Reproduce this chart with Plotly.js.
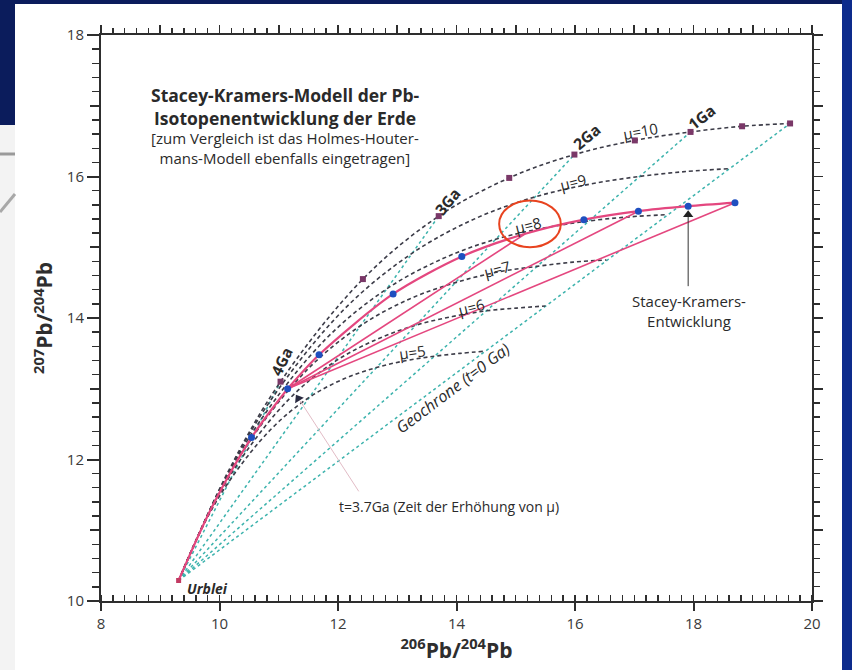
<!DOCTYPE html>
<html><head><meta charset="utf-8">
<script src="https://cdn.plot.ly/plotly-3.0.1.min.js"></script>
<style>html,body{margin:0;padding:0;background:#0b1c5c;}#chart{width:852px;height:670px;}</style>
</head><body><div id="chart"></div>
<script>
// ---- data ----
const muLabels = ['µ=5','µ=6','µ=7','µ=8','µ=9','µ=10'];
const ages = [4.57, 4.3, 4.0, 3.5, 3.0, 2.5, 2.0, 1.5, 1.0, 0.5, 0.0];
const mu5_x  = [9.31, 9.72, 10.17, 10.86, 11.50, 12.10, 12.65, 13.16, 13.63, 14.06, 14.47];
const mu5_y  = [10.29, 11.06, 11.70, 12.42, 12.87, 13.14, 13.30, 13.40, 13.46, 13.50, 13.53];
const mu6_x  = [9.31, 9.81, 10.34, 11.17, 11.94, 12.66, 13.32, 13.93, 14.49, 15.01, 15.50];
const mu6_y  = [10.29, 11.21, 11.98, 12.85, 13.38, 13.70, 13.90, 14.02, 14.10, 14.14, 14.17];
const mu7_x  = [9.31, 9.89, 10.51, 11.48, 12.38, 13.21, 13.98, 14.70, 15.36, 15.97, 16.53];
const mu7_y  = [10.29, 11.36, 12.26, 13.27, 13.89, 14.27, 14.50, 14.65, 14.73, 14.79, 14.82];
const mu8_x  = [9.31, 9.97, 10.68, 11.79, 12.82, 13.77, 14.65, 15.47, 16.22, 16.92, 17.56];
const mu8_y  = [10.29, 11.51, 12.54, 13.70, 14.41, 14.84, 15.11, 15.27, 15.37, 15.43, 15.46];
const mu9_x  = [9.31, 10.06, 10.85, 12.10, 13.26, 14.33, 15.32, 16.24, 17.08, 17.87, 18.59];
const mu9_y  = [10.29, 11.67, 12.82, 14.12, 14.92, 15.41, 15.71, 15.89, 16.00, 16.07, 16.11];
const mu10_x = [9.31, 10.14, 11.03, 12.42, 13.70, 14.89, 15.99, 17.01, 17.95, 18.82, 19.63];
const mu10_y = [10.29, 11.82, 13.10, 14.55, 15.44, 15.98, 16.31, 16.51, 16.63, 16.71, 16.75];

// squares on the µ=10 curve (0.5 Ga steps, 4 Ga .. 0 Ga)
const sq_x = [11.03, 12.42, 13.70, 14.89, 15.99, 17.01, 17.95, 18.82, 19.63];
const sq_y = [13.10, 14.55, 15.44, 15.98, 16.31, 16.51, 16.63, 16.71, 16.75];

// primordial lead
const urblei_x = [9.31];
const urblei_y = [10.29];

// isochrons (teal): Urblei -> µ=10 point at 4,3,2,1,0 Ga
const iso_ages = ['4Ga','3Ga','2Ga','1Ga','Geochrone'];
const iso_end_x = [11.03, 13.70, 15.99, 17.95, 19.63];
const iso_end_y = [13.10, 15.44, 16.31, 16.63, 16.75];

// Stacey-Kramers model
const sk1_x = [9.31, 9.91, 10.54, 11.15];
const sk1_y = [10.29, 11.39, 12.31, 13.00];
const sk2_ages = [3.7, 3.5, 3.0, 2.5, 2.0, 1.5, 1.0, 0.5, 0.0];
const sk2_x = [11.15, 11.68, 12.93, 14.09, 15.16, 16.15, 17.07, 17.91, 18.70];
const sk2_y = [13.00, 13.48, 14.34, 14.87, 15.19, 15.39, 15.51, 15.58, 15.63];
const skdot_x = [10.54, 11.15, 11.68, 12.93, 14.09, 16.15, 17.07, 17.91, 18.70];
const skdot_y = [12.31, 13.00, 13.48, 14.34, 14.87, 15.39, 15.51, 15.58, 15.63];
// secondary isochrons from the 3.7 Ga point
const sec_end_x = [15.16, 17.07, 18.70];
const sec_end_y = [15.19, 15.51, 15.63];

// pointer arrows (tail -> head)
const skArrow_x = [17.91, 17.91];
const skArrow_y = [14.45, 15.46];
const t37Line_x = [12.35, 11.36];
const t37Line_y = [11.55, 12.83];
const t37Head_x = [11.33];
const t37Head_y = [12.86];

// tick values
const xTicks = [8,10,12,14,16,18,20];
const yTicks = [10,12,14,16,18];
const yOddTicks = [11,13,15,17];

// ---- traces ----
const DASH = '4px,3px';
const traces = [];
const teal = '#3db3ad', dashCol = '#3c3c48', pink = '#e4477f';
for (let i = 0; i < iso_end_x.length; i++) {
  traces.push({x:[urblei_x[0], iso_end_x[i]], y:[urblei_y[0], iso_end_y[i]], mode:'lines',
    line:{color:teal, width:1.5, dash:'dot'}, hoverinfo:'skip', showlegend:false});
}
const muX = [mu5_x, mu6_x, mu7_x, mu8_x, mu9_x, mu10_x];
const muY = [mu5_y, mu6_y, mu7_y, mu8_y, mu9_y, mu10_y];
for (let i = 0; i < muX.length; i++) {
  traces.push({x:muX[i], y:muY[i], mode:'lines', line:{color:dashCol, width:1.6, dash:DASH, shape:'spline', smoothing:1},
    hoverinfo:'skip', showlegend:false});
}
for (let i = 0; i < sec_end_x.length; i++) {
  traces.push({x:[sk2_x[0], sec_end_x[i]], y:[sk2_y[0], sec_end_y[i]], mode:'lines',
    line:{color:pink, width:1.6}, hoverinfo:'skip', showlegend:false});
}
traces.push({x:sk1_x, y:sk1_y, mode:'lines', line:{color:pink, width:2.2, shape:'spline'}, showlegend:false, hoverinfo:'skip'});
traces.push({x:sk2_x, y:sk2_y, mode:'lines', line:{color:pink, width:2.2, shape:'spline', smoothing:0.8}, showlegend:false, hoverinfo:'skip'});
traces.push({x:sq_x, y:sq_y, mode:'markers', marker:{symbol:'square', size:6, color:'#7a3868'}, showlegend:false, hoverinfo:'skip'});
traces.push({x:urblei_x, y:urblei_y, mode:'markers', marker:{symbol:'square', size:5, color:'#c23a62'}, showlegend:false, hoverinfo:'skip'});
traces.push({x:skdot_x, y:skdot_y, mode:'markers', marker:{symbol:'circle', size:7, color:'#1f4fc0'}, showlegend:false, hoverinfo:'skip'});
// pointer arrows
traces.push({x:t37Line_x, y:t37Line_y, mode:'lines', line:{color:'#e2bcc6', width:1}, showlegend:false, hoverinfo:'skip'});
traces.push({x:t37Head_x, y:t37Head_y, mode:'markers', marker:{symbol:'triangle-up', size:9, angle:-32, color:'#2a2a40'}, showlegend:false, hoverinfo:'skip'});
traces.push({x:skArrow_x, y:skArrow_y, mode:'lines', line:{color:'#333', width:1}, showlegend:false, hoverinfo:'skip'});
traces.push({x:[skArrow_x[1]], y:[skArrow_y[1]], mode:'markers', marker:{symbol:'triangle-up', size:9, color:'#222'}, showlegend:false, hoverinfo:'skip'});
// dummy traces for the extra tick axes
traces.push({x:[8], y:[10], xaxis:'x2', yaxis:'y2', mode:'markers', marker:{opacity:0}, showlegend:false, hoverinfo:'skip'});
traces.push({x:[8], y:[10], xaxis:'x', yaxis:'y3', mode:'markers', marker:{opacity:0}, showlegend:false, hoverinfo:'skip'});

// ---- layout helpers (pixel -> paper for decoration) ----
const L = 101, T = 35, PW = 711, PH = 566;
const px = v => (v - L) / PW;
const py = v => (T + PH - v) / PH;

const FONT = 'Open Sans, Noto Sans, sans-serif';
const axCol = '#2e2e2e';
const tickFont = {family: FONT, size: 15, color: '#3a3a3a'};

function lab(text, x, y, size, angle, opts) {
  return Object.assign({text: text, x: x, y: y, xref:'x', yref:'y', showarrow:false, textangle: angle || 0,
    font:{family: FONT, size: size, color:'#2a2a2a'}}, opts || {});
}

const annotations = [
  lab('<b>Stacey-Kramers-Modell der Pb-<br>Isotopenentwicklung der Erde</b>', 11.11, 16.99, 17.5),
  lab('[zum Vergleich ist das Holmes-Houter-<br>mans-Modell ebenfalls eingetragen]', 11.11, 16.40, 15),
  lab('<b>4Ga</b>', 11.04, 13.38, 15.5, -64),
  lab('<b>3Ga</b>', 13.84, 15.64, 15.5, -50),
  lab('<b>2Ga</b>', 16.19, 16.56, 15.5, -40),
  lab('<b>1Ga</b>', 18.14, 16.84, 15.5, -38),
  lab('µ=10', 17.10, 16.64, 15, -10),
  lab('µ=9', 15.97, 15.92, 15, -14),
  lab('µ=8', 15.21, 15.31, 15, -14),
  lab('µ=7', 14.68, 14.69, 15, -14),
  lab('µ=6', 14.24, 14.16, 15, -14),
  lab('µ=5', 13.25, 13.52, 15, -8),
  lab('<i>Geochrone (t=0 Ga)</i>', 13.94, 13.01, 16, -37),
  lab('<b><i>Urblei</i></b>', 9.42, 10.18, 14, 0, {xanchor:'left'}),
  lab('Stacey-Kramers-<br>Entwicklung', 17.92, 14.10, 15, 0),
  lab('t=3.7Ga (Zeit der Erhöhung von µ)', 11.98, 11.33, 14, 0, {xanchor:'left'})
];

const shapes = [
  {type:'rect', xref:'paper', yref:'paper', x0:px(15), x1:px(842), y0:py(4), y1:py(670), fillcolor:'#ffffff', line:{width:0}, layer:'below'},
  {type:'rect', xref:'paper', yref:'paper', x0:px(0), x1:px(15), y0:py(125), y1:py(670), fillcolor:'#f3f3f3', line:{width:0}, layer:'below'},
  {type:'rect', xref:'paper', yref:'paper', x0:px(842), x1:px(852), y0:py(0), y1:py(670), fillcolor:'#0d2b8c', line:{width:0}, layer:'below'},
  {type:'line', xref:'paper', yref:'paper', x0:px(0), x1:px(15), y0:py(154), y1:py(154), line:{color:'#9a9a9a', width:3}},
  {type:'line', xref:'paper', yref:'paper', x0:px(0), x1:px(15), y0:py(212), y1:py(194), line:{color:'#a8a8a8', width:3}},
  // red ellipse
  {type:'circle', xref:'x', yref:'y', x0:14.72, x1:15.76, y0:15.00, y1:15.66, line:{color:'#e8431f', width:2}}
];

const layout = {
  width: 852, height: 670,
  margin: {l: L, r: 852 - L - PW, t: T, b: 670 - T - PH},
  paper_bgcolor: '#0b1c5c', plot_bgcolor: '#ffffff',
  showlegend: false,
  xaxis: {range:[8,20], tickvals:xTicks, ticks:'outside', ticklen:8, tickwidth:2, tickcolor:axCol,
    showline:true, linewidth:2, linecolor:axCol, showgrid:false, zeroline:false, tickfont:tickFont,
    minor:{dtick:0.2, tick0:8, ticks:'inside', ticklen:6, tickwidth:1.4, tickcolor:axCol, showgrid:false},
    title:{text:'<b><sup>206</sup>Pb/<sup>204</sup>Pb</b>', font:{family:FONT, size:21, color:'#2e2e2e'}, standoff:5}},
  yaxis: {range:[10,18], tickvals:yTicks, ticks:'outside', ticklen:12, tickwidth:2, tickcolor:axCol,
    showline:true, linewidth:2, linecolor:axCol, showgrid:false, zeroline:false, tickfont:tickFont,
    minor:{dtick:0.2, tick0:10, ticks:'outside', ticklen:7, tickwidth:1.4, tickcolor:axCol, showgrid:false},
    title:{text:'<b><sup>207</sup>Pb/<sup>204</sup>Pb</b>', font:{family:FONT, size:21, color:'#2e2e2e'}, standoff:8}},
  yaxis3: {overlaying:'y', side:'left', anchor:'x', range:[10,18], tickvals:yOddTicks, ticks:'outside', ticklen:10, tickwidth:1.8,
    tickcolor:axCol, showticklabels:false, showline:false, showgrid:false, zeroline:false},
  xaxis2: {overlaying:'x', side:'top', anchor:'y2', range:[8,20], dtick:1, tick0:8, ticks:'outside', ticklen:8, tickwidth:1.6,
    tickcolor:axCol, showticklabels:false, showline:true, linewidth:2, linecolor:axCol, showgrid:false, zeroline:false,
    minor:{dtick:0.2, tick0:8, ticks:'outside', ticklen:5, tickwidth:1.3, tickcolor:axCol, showgrid:false}},
  yaxis2: {overlaying:'y', side:'right', anchor:'x2', range:[10,18], dtick:1, tick0:10, ticks:'outside', ticklen:9, tickwidth:1.6,
    tickcolor:axCol, showticklabels:false, showline:true, linewidth:2, linecolor:axCol, showgrid:false, zeroline:false,
    minor:{dtick:0.2, tick0:10, ticks:'outside', ticklen:6, tickwidth:1.3, tickcolor:axCol, showgrid:false}},
  annotations: annotations,
  shapes: shapes
};

Plotly.newPlot('chart', traces, layout, {staticPlot:true, displayModeBar:false});
</script></body></html>
